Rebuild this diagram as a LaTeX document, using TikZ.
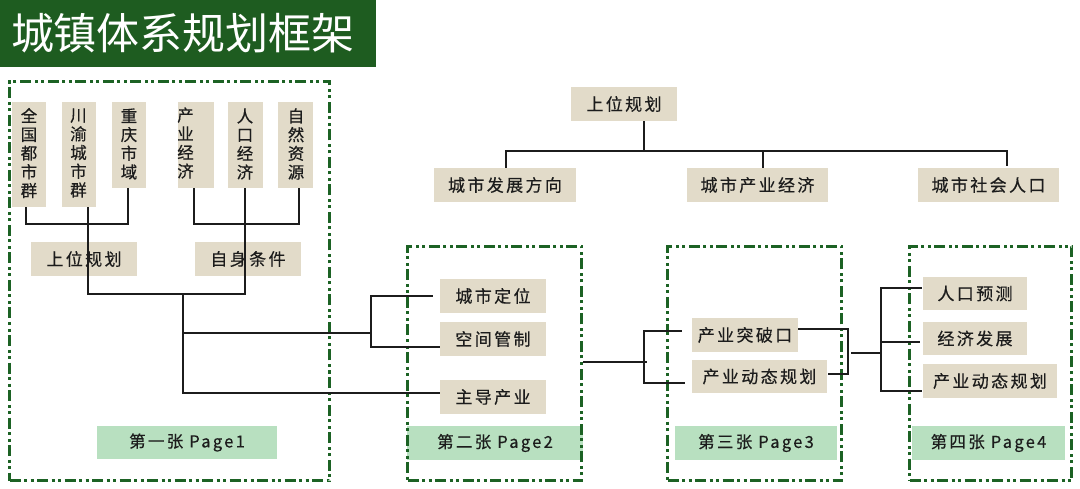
\documentclass[tikz,border=0pt]{standalone}
\usepackage{fontspec}
\setmainfont{Noto Sans CJK SC}
\newfontfamily\spaced{Noto Sans CJK SC}[LetterSpace=14,FakeBold=0.4]
\newfontfamily\plainbold{Noto Sans CJK SC}[FakeBold=0.4]
\usetikzlibrary{positioning}
\definecolor{titlegreen}{RGB}{30,92,32}
\definecolor{framegreen}{RGB}{28,98,36}
\definecolor{beige}{RGB}{226,219,201}
\definecolor{lightgreen}{RGB}{184,224,192}
\definecolor{ink}{RGB}{28,28,28}
\tikzset{
  hbox/.style={fill=beige, inner sep=0pt, text=ink, font=\spaced\fontsize{17}{20}\selectfont},
  vbox/.style={fill=beige, inner sep=0pt, minimum width=34pt},
  vtext/.style={inner sep=0pt, text=ink, align=center, font=\plainbold\fontsize{16.5}{18.7}\selectfont},
  pagebox/.style={fill=lightgreen, inner sep=0pt, minimum height=34pt, text=ink, font=\spaced\fontsize{16.5}{20}\selectfont},
  frame/.style={draw=framegreen, line width=3pt, inner sep=0pt,
    dash pattern=on 11pt off 3.5pt on 3pt off 3.5pt on 3pt off 3.5pt},
  conn/.style={draw=ink, line width=1.8pt}
}
\begin{document}
\begin{tikzpicture}[x=1pt,y=-1pt]
\useasboundingbox (0,0) rectangle (1080,489);
% title
\node[fill=titlegreen, minimum width=376pt, minimum height=67pt, inner sep=0pt, anchor=north west] (titlebar) at (0,0) {};
\node[text=white, font=\fontsize{43}{46}\selectfont, inner sep=0pt] (title) at (183,33) {城镇体系规划框架};

% page 1 vertical boxes
\node[vbox, minimum height=105pt] (v1) at (29,154.5) {};
\node[vtext] (v1t) at (29,153) {全\\国\\都\\市\\群};
\node[vbox, minimum height=105pt] (v2) at (78.5,154.5) {};
\node[vtext] (v2t) at (78.5,153) {川\\渝\\城\\市\\群};
\node[vbox, minimum height=86pt] (v3) at (129,145) {};
\node[vtext] (v3t) at (129,144) {重\\庆\\市\\域};
\node[vbox, minimum height=86pt, minimum width=36pt] (v4) at (196,145) {};
\node[vtext] (v4t) at (185.5,143) {产\\业\\经\\济};
\node[vbox, minimum height=86pt, minimum width=35pt] (v5) at (245.5,145) {};
\node[vtext] (v5t) at (245,144) {人\\口\\经\\济};
\node[vbox, minimum height=86pt, minimum width=35pt] (v6) at (295.5,145) {};
\node[vtext] (v6t) at (296,144) {自\\然\\资\\源};

\node[hbox, minimum width=106pt, minimum height=34pt] (h1) at (84,259) {上位规划};
\node[hbox, minimum width=106pt, minimum height=34pt] (h2) at (248,259) {自身条件};
\node[pagebox, minimum width=180pt, minimum height=33pt] (p1) at (187,442.5) {第一张 Page1};

% page 2
\node[hbox, minimum width=106pt, minimum height=34pt] (b2a) at (493,296) {城市定位};
\node[hbox, minimum width=106pt, minimum height=34pt] (b2b) at (493,339) {空间管制};
\node[hbox, minimum width=106pt, minimum height=34pt] (b2c) at (493,397) {主导产业};
\node[pagebox, minimum width=176pt] (p2) at (495,443) {第二张 Page2};

% page 3
\node[hbox, minimum width=106pt, minimum height=34pt] (b3a) at (745,335) {产业突破口};
\node[hbox, minimum width=135pt, minimum height=33pt] (b3b) at (759.5,376.5) {产业动态规划};
\node[pagebox, minimum width=162pt] (p3) at (756,443) {第三张 Page3};

% page 4
\node[hbox, minimum width=104pt, minimum height=33pt] (b4a) at (975,293.5) {人口预测};
\node[hbox, minimum width=104pt, minimum height=33pt] (b4b) at (975,338.5) {经济发展};
\node[hbox, minimum width=134pt, minimum height=34pt] (b4c) at (990,381) {产业动态规划};
\node[pagebox, minimum width=153pt] (p4) at (988.5,443) {第四张 Page4};

% top tree
\node[hbox, minimum width=106pt, minimum height=34pt] (top) at (624,104) {上位规划};
\node[hbox, minimum width=142pt, minimum height=34pt] (t1) at (505,185) {城市发展方向};
\node[hbox, minimum width=141pt, minimum height=34pt] (t2) at (757.5,185) {城市产业经济};
\node[hbox, minimum width=141pt, minimum height=34pt] (t3) at (988.5,185) {城市社会人口};

% frames
\node[frame, minimum width=320pt, minimum height=399pt, anchor=north west] (f1) at (8,80) {};
\node[frame, minimum width=174pt, minimum height=234pt, anchor=north west] (f2) at (406,245) {};
\node[frame, minimum width=174pt, minimum height=234pt, anchor=north west] (f3) at (666,245) {};
\node[frame, minimum width=162pt, minimum height=234pt, anchor=north west] (f4) at (908,245) {};

% connectors, page 1
\coordinate (L1) at (26,224);
\coordinate (L2) at (128,224);
\draw[conn] (v1.south -| L1) -- (L1) -- (L2) -- (v3.south -| L2);
\coordinate (R1) at (194,224);
\coordinate (R2) at (299,224);
\draw[conn] (v4.south -| R1) -- (R1) -- (R2) -- (v6.south -| R2);
\coordinate (M1) at (88,294);
\coordinate (M2) at (245,294);
\coordinate (M0) at (183,294);
\draw[conn] (v2.south -| M1) -- (M1) -- (M2) -- (v5.south -| M2);
\coordinate (M3) at (183,333);
\coordinate (M4) at (183,393);
\draw[conn] (M0) -- (M4) -- (b2c.west |- M4);
\coordinate (B0) at (371,333);
\coordinate (B1) at (371,296);
\coordinate (B2) at (371,347);
\draw[conn] (M3) -- (B0);
\draw[conn] ([xshift=-7pt]b2a.west) -- (B1) -- (B2) -- (b2b.west |- B2);

% page 2 to 3
\coordinate (C1) at (647,362);
\coordinate (C2) at (644,331);
\coordinate (C3) at (644,383);
\draw[conn] (f2.east |- C1) -- (C1);
\draw[conn] ([xshift=-10pt]b3a.west |- C2) -- (C2) -- (C3) -- ([xshift=-7pt]b3b.west |- C3);

% page 3 to 4
\coordinate (D1) at (848,329);
\coordinate (D2) at (848,374);
\draw[conn] (b3a.east |- D1) -- (D1) -- (D2) -- ([xshift=1pt]b3b.east |- D2);
\coordinate (E0) at (851,353);
\coordinate (E1) at (881,353);
\draw[conn] (E0) -- (E1);
\coordinate (E2) at (881,288);
\coordinate (E3) at (881,391);
\coordinate (E4) at (881,342);
\draw[conn] ([xshift=-1pt]b4a.west |- E2) -- (E2) -- (E3) -- ([xshift=-1pt]b4c.west |- E3);
\draw[conn] (E4) -- ([xshift=-3pt]b4b.west |- E4);

% top tree
\coordinate (T0) at (644,151);
\coordinate (T1) at (506,151);
\coordinate (T2) at (763,151);
\coordinate (T3) at (1007,151);
\draw[conn] (top.south -| T0) -- (T0);
\draw[conn] (t1.north -| T1) -- (T1) -- (T3) -- ([yshift=2pt]t3.north -| T3);
\draw[conn] (T2) -- (t2.north -| T2);
\end{tikzpicture}
\end{document}
